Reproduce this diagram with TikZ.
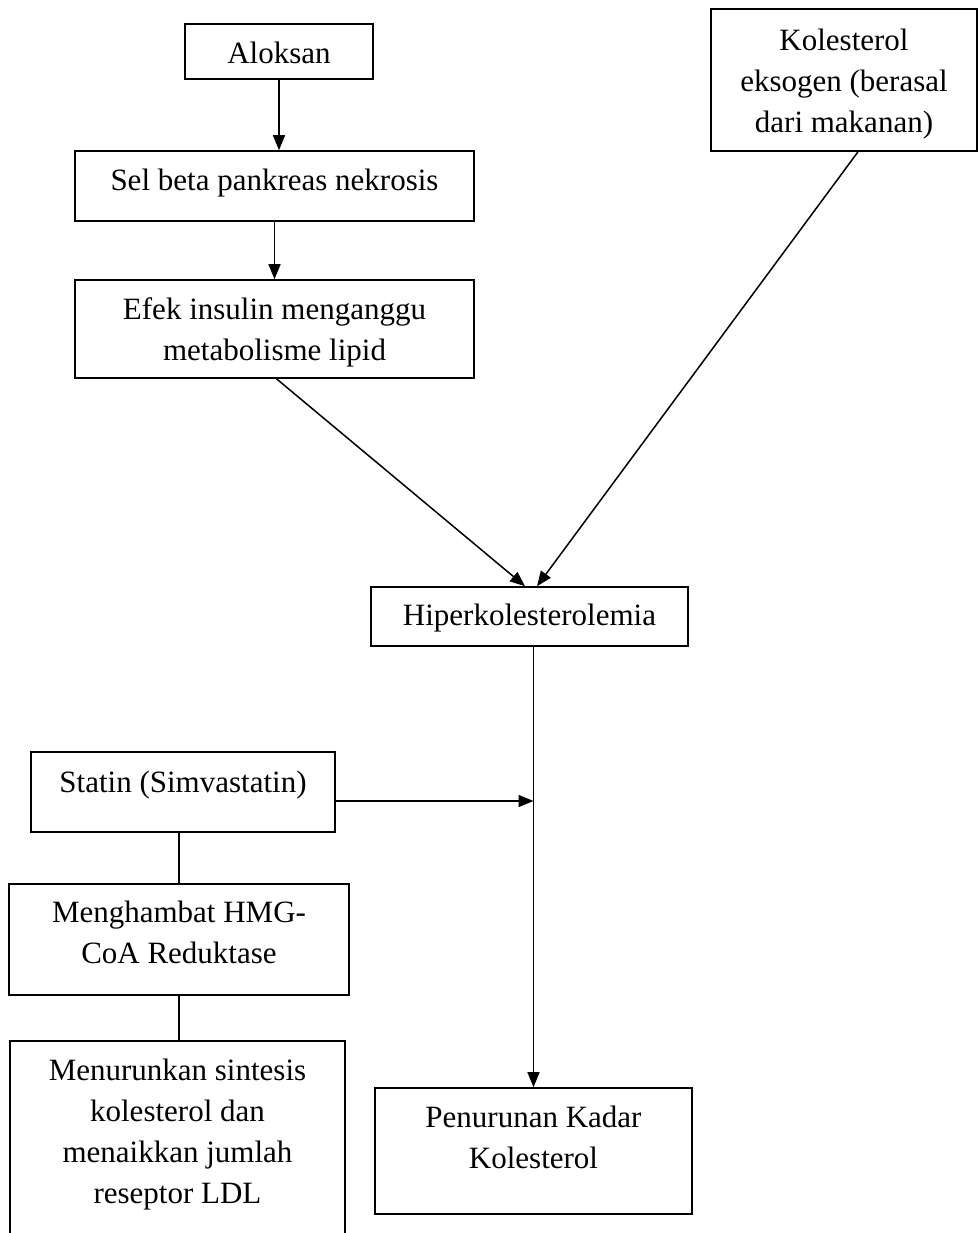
\documentclass[tikz,border=0pt]{standalone}
\usepackage{fontspec}
\setmainfont{Liberation Serif}
\usetikzlibrary{arrows.meta}
\begin{document}
\begin{tikzpicture}[x=1pt,y=-1pt,
  box/.style={draw, line width=1.6pt, inner sep=0pt},
  txt/.style={font=\fontsize{31}{41}\selectfont, align=center, inner sep=0pt},
  arr/.style={line width=1.5pt, -{Triangle[length=15pt,width=12pt]}},
  con/.style={line width=1.5pt}]
\useasboundingbox (0,0) rectangle (979,1233);
\clip (0,0) rectangle (979,1233);
% boxes
\node[box, minimum width=188pt, minimum height=55pt] (alok) at (279,51.5) {};
\node[txt] (alokt) at (279,52.5) {Aloksan};
\node[box, minimum width=399pt, minimum height=70pt] (sel) at (274.5,186) {};
\node[txt] (selt) at (274.5,183) {Sel beta pankreas nekrosis};
\node[box, minimum width=399pt, minimum height=98pt] (efek) at (274.5,329) {};
\node[txt] (efekt) at (274.5,332) {Efek insulin menganggu\\metabolisme lipid};
\node[box, minimum width=266pt, minimum height=142pt] (kol) at (844,80) {};
\node[txt] (kolt) at (844,84) {Kolesterol\\eksogen (berasal\\dari makanan)};
\node[box, minimum width=317pt, minimum height=59pt] (hip) at (529.5,616.5) {};
\node[txt] (hipt) at (529.5,618) {Hiperkolesterolemia};
\node[box, minimum width=304pt, minimum height=80pt] (stat) at (183,792) {};
\node[txt] (statt) at (183,785) {Statin (Simvastatin)};
\node[box, minimum width=340pt, minimum height=111pt] (meng) at (179,939.5) {};
\node[txt] (mengt) at (179,932) {Menghambat HMG-\\CoA Reduktase};
\node[box, minimum width=335pt, minimum height=199pt] (menu) at (177.5,1140.5) {};
\node[txt] (menut) at (177.5,1134.5) {Menurunkan sintesis\\kolesterol dan\\menaikkan jumlah\\reseptor LDL};
\node[box, minimum width=317pt, minimum height=126pt] (pen) at (533.5,1151) {};
\node[txt] (pent) at (533.5,1137.5) {Penurunan Kadar\\Kolesterol};
% connectors
\draw[arr] (alok.south) -- (alok.south |- sel.north);
\draw[arr] (sel.south) -- (sel.south |- efek.north);
\draw[arr] ([xshift=2pt]efek.south) -- ([xshift=-4.5pt]hip.north);
\draw[arr] ([xshift=14pt]kol.south) -- ([xshift=7.5pt]hip.north);
\draw[arr] (pen.north |- hip.south) -- (pen.north);
\coordinate (sa) at ([yshift=-9pt]stat.east);
\draw[arr] (sa) -- (sa -| pen.north);
\draw[con] (meng.north |- stat.south) -- (meng.north);
\draw[con] (meng.south) -- (meng.south |- menu.north);
\end{tikzpicture}
\end{document}
